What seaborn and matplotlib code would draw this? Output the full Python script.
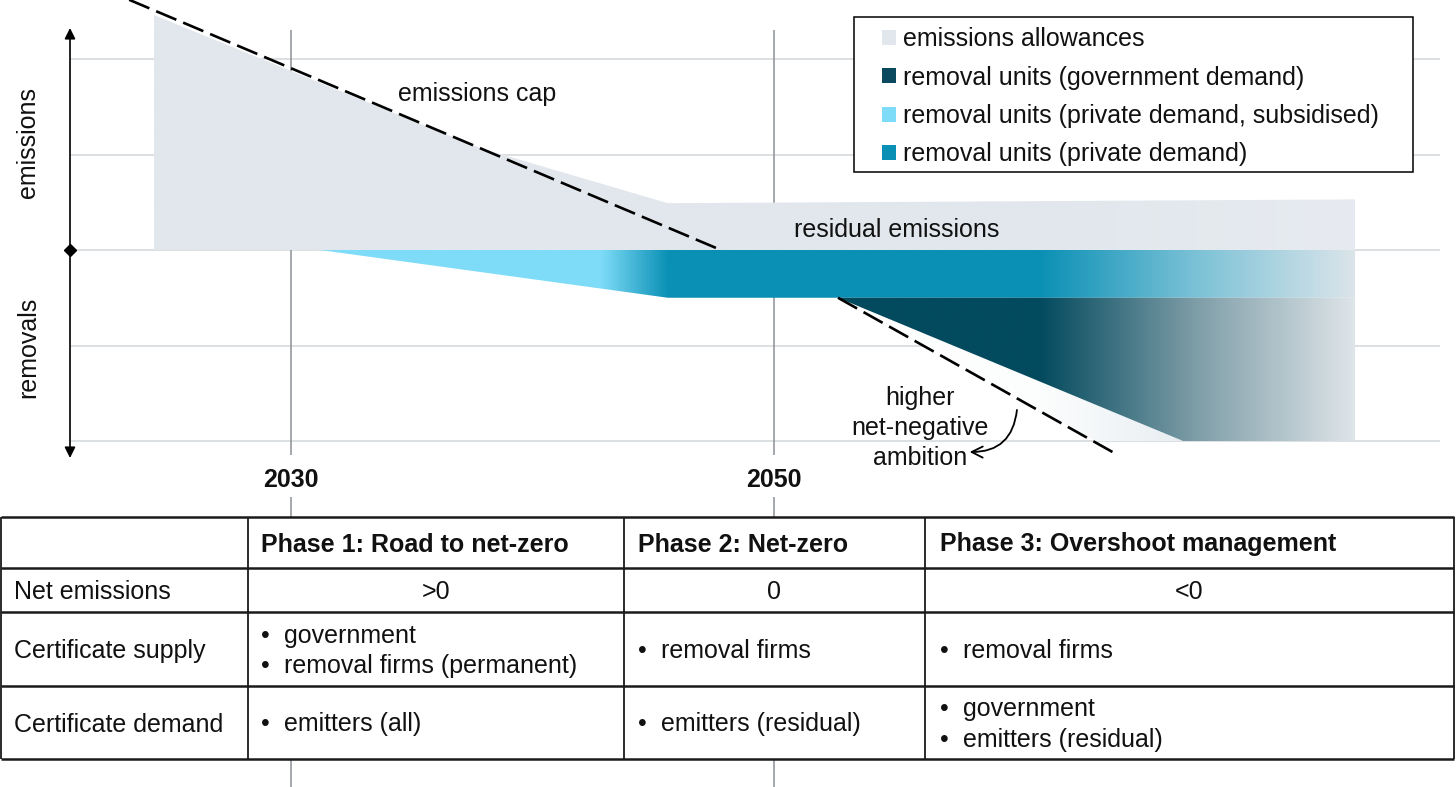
import numpy as np
import pandas as pd
import matplotlib
matplotlib.use("Agg")
import matplotlib.pyplot as plt
import seaborn as sns
from matplotlib.patches import Polygon, Patch, Rectangle, FancyArrowPatch
from matplotlib.colors import to_rgb

# -----------------------------
# data (years on x, stylised emission units on y)
# -----------------------------
milestone_years = [2030, 2050]
grid_levels = [2, 1, 0, -1, -2]

cap_years = [2023.3, 2047.8]
cap_values = [2.62, 0.0]

ambition_years = [2052.65, 2064.05]
ambition_values = [-0.5, -2.12]

allow_years = [2024.33, 2037.8, 2045.6, 2074.06, 2074.06, 2024.33]
allow_values = [2.46, 1.07, 0.49, 0.53, 0.0, 0.0]

private_years = [2031.2, 2045.6, 2074.06, 2074.06]
private_values = [0.0, -0.5, -0.5, 0.0]

gov_years = [2052.65, 2066.94, 2074.06, 2074.06]
gov_values = [-0.5, -2.0, -2.0, -0.5]

pale_years = [2052.65, 2063.29, 2066.94]
pale_values = [-0.5, -2.0, -2.0]

legend_labels = ["emissions allowances",
                 "removal units (government demand)",
                 "removal units (private demand, subsidised)",
                 "removal units (private demand)"]
legend_colors = ["#e1e7ec", "#0b4a5e", "#7fdcf8", "#0a8fb5"]

phases = ["Phase 1: Road to net-zero", "Phase 2: Net-zero",
          "Phase 3: Overshoot management"]
row_labels = ["Net emissions", "Certificate supply", "Certificate demand"]
net_emissions = [">0", "0", "<0"]
supply = [["government", "removal firms (permanent)"], ["removal firms"], ["removal firms"]]
demand = [["emitters (all)"], ["emitters (residual)"], ["government", "emitters (residual)"]]

# -----------------------------
# style
# -----------------------------
sns.set_theme(style="white")
plt.rcParams['font.family'] = ['Liberation Sans', 'DejaVu Sans']
FS = 18
TXT = "#111111"

fig = plt.figure(figsize=(14.56, 7.87), dpi=100)
ax = fig.add_axes([0, 0, 1, 1])
ax.set_axis_off()

PX = 24.15   # pixels per year
PY = 95.5    # pixels per unit
x_left = 2030 - 291 / PX
x_right = x_left + 1456 / PX
y_top = 250 / PY
y_bot = y_top - 787 / PY


def gradient_fill(ax, xs, ys, stops, zorder):
    poly = Polygon(np.column_stack([xs, ys]), closed=True,
                   facecolor="none", edgecolor="none")
    ax.add_patch(poly)
    x0, x1 = min(xs), max(xs)
    gx = np.linspace(x0, x1, 800)
    sx = [s[0] for s in stops]
    cols = np.array([to_rgb(s[1]) for s in stops])
    rgb = np.stack([np.interp(gx, sx, cols[:, k]) for k in range(3)], axis=-1)[None, :, :]
    im = ax.imshow(rgb, extent=[x0, x1, min(ys), max(ys)], aspect="auto",
                   origin="lower", zorder=zorder, interpolation="bilinear")
    im.set_clip_path(poly)


# grid + milestone lines
grid_x0 = 2030 - 221 / PX
grid_x1 = 2030 + 1149 / PX
ax.hlines(grid_levels, grid_x0, grid_x1, color="#d7dadd", lw=1.2, zorder=1)
ax.vlines(milestone_years, -205 / PY, 220 / PY, color="#8c9196", lw=1.1, zorder=1)
ax.vlines(milestone_years, y_bot, -247 / PY, color="#8c9196", lw=1.1, zorder=1)

# shaded areas
gradient_fill(ax, allow_years, allow_values,
              [(2024.3, "#e1e7ec"), (2061.0, "#e1e7ec"), (2074.1, "#e7ebf1")], 2)
gradient_fill(ax, private_years, private_values,
              [(2031.2, "#7fdcf8"), (2042.8, "#7fdcf8"), (2045.6, "#0a90b5"),
               (2061.0, "#0a90b5"), (2067.5, "#7cc2d7"), (2074.1, "#dce5ea")], 3)
gradient_fill(ax, gov_years, gov_values,
              [(2052.6, "#034a5e"), (2061.0, "#034a5e"), (2067.5, "#7f9ea8"),
               (2074.1, "#e0e6ea")], 3)
gradient_fill(ax, pale_years, pale_values,
              [(2052.6, "#ffffff"), (2061.0, "#fcfdfd"), (2066.9, "#e9eef2")], 2)

# cap lines
cap_df = pd.DataFrame({"year": cap_years, "value": cap_values})
amb_df = pd.DataFrame({"year": ambition_years, "value": ambition_values})
for df in (cap_df, amb_df):
    sns.lineplot(data=df, x="year", y="value", ax=ax, color="black", lw=1.9,
                 linestyle=(0, (8.3, 2.8)), zorder=5)

# vertical axis with arrows
ax.annotate("", xy=(grid_x0, 222 / PY), xytext=(grid_x0, -208 / PY),
            arrowprops=dict(arrowstyle="<|-|>", color="black", lw=1.2,
                            mutation_scale=16, shrinkA=0, shrinkB=0), zorder=6)
ax.plot([grid_x0], [0], marker="D", ms=6, color="black", zorder=6)

ax.text(2030 - 263 / PX, 108 / PY, "emissions", rotation=90, ha="center",
        va="center", fontsize=FS, color=TXT)
ax.text(2030 - 263 / PX, -97 / PY, "removals", rotation=90, ha="center",
        va="center", fontsize=FS, color=TXT)
for yr in milestone_years:
    ax.text(yr, -230 / PY, str(yr), ha="center", va="center", fontsize=FS,
            fontweight="bold", color=TXT)

ax.text(2037.7, 1.633, "emissions cap", ha="center", va="center", fontsize=FS,
        color=TXT, zorder=7)
ax.text(2055.09, 0.21, "residual emissions", ha="center", va="center", fontsize=FS,
        color=TXT, zorder=7)
ax.text(2056.05, -1.865, "higher\nnet-negative\nambition", ha="center", va="center",
        fontsize=FS, linespacing=1.32, color=TXT, zorder=7)
ax.add_patch(FancyArrowPatch((2060.06, -1.675), (2058.1, -2.115),
                             connectionstyle="arc3,rad=-0.45", arrowstyle="->",
                             mutation_scale=20, lw=1.3, color="black",
                             shrinkA=0, shrinkB=0, zorder=7))

# legend
handles = [Patch(facecolor=c, edgecolor="none", label=l)
           for c, l in zip(legend_colors, legend_labels)]
ax.add_patch(Rectangle((854 / 1456, 1 - 172 / 787), 559 / 1456, 155 / 787,
                       transform=fig.transFigure, facecolor="white",
                       edgecolor="black", lw=1.1, zorder=8))
leg = ax.legend(handles=handles, loc="upper left",
                bbox_to_anchor=(882 / 1456, 1 - 27 / 787),
                bbox_transform=fig.transFigure, frameon=False, fontsize=FS,
                handlelength=0.56, handleheight=0.56, handletextpad=0.28,
                labelspacing=0.58, borderpad=0, borderaxespad=0)
for t in leg.get_texts():
    t.set_color(TXT)
leg.set_zorder(9)

ax.set_xlim(x_left, x_right)
ax.set_ylim(y_bot, y_top)

# -----------------------------
# table (overlay in pixel space)
# -----------------------------
tax = fig.add_axes([0, 0, 1, 1])
tax.set_axis_off()
tax.patch.set_alpha(0)
tax.set_xlim(0, 1456)
tax.set_ylim(787, 0)

col_edges = [1, 248, 624, 925, 1454]
row_edges = [517, 568, 612, 686, 759]
tax.add_patch(Rectangle((col_edges[0], row_edges[0]), col_edges[-1] - col_edges[0],
                        row_edges[-1] - row_edges[0], facecolor="white",
                        edgecolor="none", zorder=1))
tax.hlines(row_edges, col_edges[0], col_edges[-1], color="#1a1a1a", lw=1.8, zorder=3)
tax.vlines(col_edges, row_edges[0], row_edges[-1], color="#1a1a1a", lw=1.3, zorder=3)

text_x = [261, 638, 940]
bullet_dx = 23
for i, ph in enumerate(phases):
    tax.text(text_x[i], 544.5, ph, ha="left", va="center", fontsize=FS,
             fontweight="bold", color=TXT, zorder=4)

row_centers = [592, 651, 724.5]
for j, lab in enumerate(row_labels):
    tax.text(14, row_centers[j], lab, ha="left", va="center", fontsize=FS,
             color=TXT, zorder=4)

col_centers = [(col_edges[i + 1] + col_edges[i + 2]) / 2 for i in range(3)]
for i, val in enumerate(net_emissions):
    tax.text(col_centers[i], row_centers[0], val, ha="center", va="center",
             fontsize=FS, color=TXT, zorder=4)


def bullets(items, x, yc):
    n = len(items)
    for k, item in enumerate(items):
        y = yc + (k - (n - 1) / 2) * 31
        tax.text(x, y, "\u2022", ha="left", va="center", fontsize=FS,
                 color=TXT, zorder=4)
        tax.text(x + bullet_dx, y, item, ha="left", va="center", fontsize=FS,
                 color=TXT, zorder=4)


for i in range(3):
    bullets(supply[i], text_x[i], row_centers[1])
    bullets(demand[i], text_x[i], row_centers[2])

fig.savefig("out.png", dpi=100)
